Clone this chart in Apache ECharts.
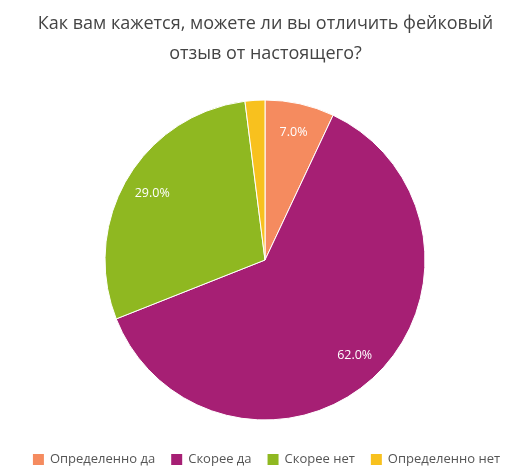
<!DOCTYPE html>
<html>
<head>
<meta charset="utf-8">
<script src="https://cdn.jsdelivr.net/npm/echarts@6/dist/echarts.min.js"></script>
<style>
    html, body { margin: 0; padding: 0; background: #fff; }
    #chart { width: 531px; height: 474px; }
</style>
</head>
<body>
<div id="chart"></div>
<script>
/*数据*/
var categories = ['Определенно да', 'Скорее да', 'Скорее нет', 'Определенно нет'];
var values = [7.0, 62.0, 29.0, 2.0];
var colors = ['#F58B5F', '#A61F74', '#8FB821', '#F8C11E'];
var showLabel = [true, true, true, false];

var chart = echarts.init(document.getElementById('chart'));

/*主饼图数据*/
function pieData() {
    var list = [];
    for (var i = 0; i < categories.length; i++) {
        list.push({ name: categories[i], value: values[i], itemStyle: { color: colors[i] } });
    }
    return list;
}

/*标签用的透明数据*/
function labelData() {
    var list = [];
    for (var i = 0; i < categories.length; i++) {
        list.push({
            name: categories[i],
            value: values[i],
            itemStyle: { color: 'rgba(0,0,0,0)', borderWidth: 0 },
            label: { show: showLabel[i] }
        });
    }
    return list;
}

var option = {
    animation: false,
    title: {
        text: 'Как вам кажется, можете ли вы отличить фейковый\nотзыв от настоящего?',
        left: 'center',
        top: 4,
        textStyle: {
            fontFamily: 'Open Sans',
            fontSize: 18,
            fontWeight: 'normal',
            color: '#444',
            lineHeight: 30
        }
    },
    legend: {
        bottom: 2,
        left: 'center',
        icon: 'rect',
        itemWidth: 13,
        itemHeight: 13,
        itemGap: 14,
        textStyle: { fontFamily: 'Open Sans', fontSize: 13, color: '#555' },
        data: categories
    },
    series: [
        {
            type: 'pie',
            center: [265, 260],
            radius: [0, 160],
            startAngle: 90,
            clockwise: true,
            label: { show: false },
            labelLine: { show: false },
            itemStyle: { borderColor: '#fff', borderWidth: 1 },
            data: pieData()
        },
        {
            type: 'pie',
            center: [265, 260],
            radius: [96, 160],
            startAngle: 90,
            clockwise: true,
            silent: true,
            legendHoverLink: false,
            label: {
                position: 'inside',
                formatter: function (p) { return p.value.toFixed(1) + '%'; },
                color: '#fff',
                fontFamily: 'Open Sans',
                fontSize: 12.5
            },
            labelLine: { show: false },
            data: labelData()
        }
    ]
};
chart.setOption(option);
</script>
</body>
</html>
